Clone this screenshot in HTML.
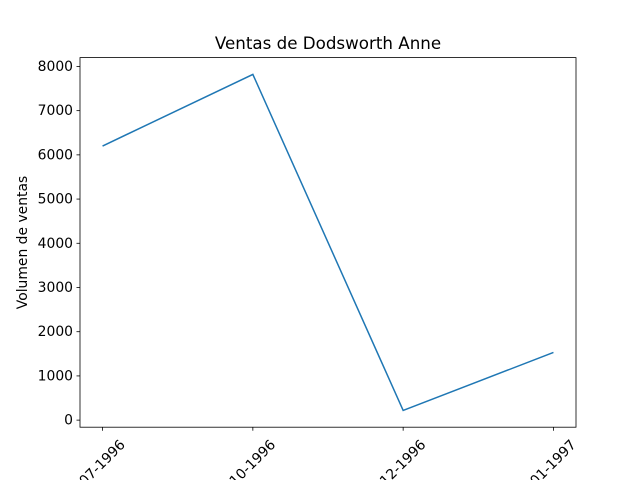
<!DOCTYPE html>
<html><head><meta charset="utf-8"><style>
body{margin:0;background:#fff}
svg{display:block;font-family:"DejaVu Sans","Liberation Sans",sans-serif}
</style></head><body>
<svg id="chart" width="640" height="480">
<text x="328" y="49" font-size="16.7" text-anchor="middle">Ventas de Dodsworth Anne</text>
<text transform="translate(27,242.5) rotate(-90)" font-size="13.9" text-anchor="middle">Volumen de ventas</text>
<g id="marks"></g>
<rect x="80" y="57.6" width="496" height="369.6" fill="none" stroke="#000" stroke-width="0.8"/>
</svg>
<script>
const categories = ["07-1996","10-1996","12-1996","01-1997"];
const values = [6200, 7820, 220, 1530];
const yTicks = [0,1000,2000,3000,4000,5000,6000,7000,8000];
const L=80,R=576,T=57.6,B=427.2;
const yMin=-160,yMax=8200;
const n=categories.length;
function xs(i){const pad=(n-1)*0.05;return L+(i+pad)/((n-1)+2*pad)*(R-L);}
function ys(v){return B-(v-yMin)/(yMax-yMin)*(B-T);}
const NS="http://www.w3.org/2000/svg";
const g=document.getElementById('marks');
function mk(t,a){const e=document.createElementNS(NS,t);for(const k in a)e.setAttribute(k,a[k]);g.appendChild(e);return e;}
yTicks.forEach(v=>{
  const y=ys(v);
  const tk=mk('line',{x1:L-3.5,x2:L,y1:y,y2:y,stroke:'#000','stroke-width':0.8});
  
  
  const t=mk('text',{x:L-7,y:y+4.5,'font-size':13.9,'text-anchor':'end'});
  
  
  t.textContent=v;
});
categories.forEach((c,i)=>{
  const x=xs(i);
  const tk=mk('line',{x1:x,x2:x,y1:B,y2:B+3.5,stroke:'#000','stroke-width':0.8});
  
  
  const t=mk('text',{transform:`translate(${x},${B+36}) rotate(-45)`,'font-size':13.9,'text-anchor':'middle','dominant-baseline':'middle'});
  
  
  t.textContent=c;
});
const p=mk('polyline',{points:values.map((v,i)=>xs(i)+','+ys(v)).join(' '),fill:'none',stroke:'#1f77b4','stroke-width':1.5});


</script>
</body></html>
